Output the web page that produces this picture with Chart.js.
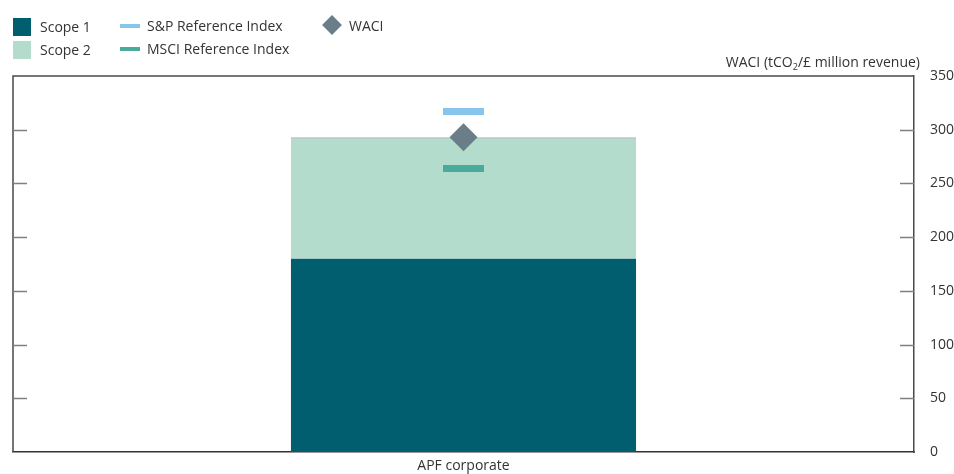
<!DOCTYPE html>
<html>
<head>
<meta charset="utf-8">
<script src="https://cdn.jsdelivr.net/npm/chart.js@4/dist/chart.umd.min.js"></script>
<style>
  body { margin: 0; background: #fff; font-family: "Open Sans", sans-serif; color: #333; }
  #wrap { position: relative; width: 954px; height: 474px; }
  .lg { position: absolute; font-size: 14px; line-height: 18px; white-space: nowrap; }
  .sw { position: absolute; }
  #axisTitle { position: absolute; right: 34px; top: 52px; font-size: 14px; white-space: nowrap; }
  #axisTitle sub { font-size: 9px; vertical-align: -3px; line-height: 0; }
</style>
</head>
<body>
<div id="wrap">
  <canvas id="myChart" width="954" height="474"></canvas>

  <div class="sw" style="left:13px;top:18px;width:18px;height:18px;background:#005e6e"></div>
  <div class="lg" style="left:40px;top:18px">Scope 1</div>
  <div class="sw" style="left:13px;top:41px;width:18px;height:18px;background:#b4dccd"></div>
  <div class="lg" style="left:40px;top:41px">Scope 2</div>

  <div class="sw" style="left:120px;top:24px;width:20px;height:4px;background:#86c6ec"></div>
  <div class="lg" style="left:147px;top:17px">S&amp;P Reference Index</div>
  <div class="sw" style="left:120px;top:47px;width:20px;height:4px;background:#4aab9a"></div>
  <div class="lg" style="left:147px;top:40px">MSCI Reference Index</div>

  <div class="sw" style="left:325px;top:18px;width:14px;height:14px;background:#6a7d88;transform:rotate(45deg)"></div>
  <div class="lg" style="left:349px;top:17px">WACI</div>

  <div id="axisTitle">WACI (tCO<sub>2</sub>/£ million revenue)</div>
</div>

<script>
const categories = ["APF corporate"];
const scope1 = [180];
const scope2 = [113];
const spIndex = [317];
const msciIndex = [264];
const waci = [293];
const yTicks = [0, 50, 100, 150, 200, 250, 300, 350];

// frame around the plot plus short inward ticks on both sides
const framePlugin = {
  id: "frame",
  afterDraw: (chart) => {
    let ctx = chart.ctx;
    let a = chart.chartArea;
    let y = chart.scales.y;
    ctx.save();
    ctx.strokeStyle = "#4a4a4a";
    ctx.lineWidth = 1.5;
    ctx.beginPath();
    ctx.moveTo(a.left, a.bottom);
    ctx.lineTo(a.left, a.top);
    ctx.lineTo(a.right, a.top);
    ctx.stroke();
    ctx.strokeStyle = "#808080";
    ctx.lineWidth = 1.5;
    for (let v of yTicks) {
      if (v === 0 || v === 350) continue;
      let py = Math.round(y.getPixelForValue(v)) + 0.5;
      ctx.beginPath();
      ctx.moveTo(a.left, py);
      ctx.lineTo(a.left + 14, py);
      ctx.moveTo(a.right - 14, py);
      ctx.lineTo(a.right, py);
      ctx.stroke();
    }
    ctx.restore();
  },
};

const data = {
  labels: categories,
  datasets: [
    {
      type: "line",
      label: "S&P Reference Index",
      data: spIndex,
      showLine: false,
      stack: "sp",
      order: 0,
      pointStyle: "line",
      pointRadius: 20.5,
      pointHoverRadius: 20.5,
      pointBorderWidth: 7,
      borderColor: "#86c6ec",
      backgroundColor: "#86c6ec",
    },
    {
      type: "line",
      label: "MSCI Reference Index",
      data: msciIndex,
      showLine: false,
      stack: "msci",
      order: 0,
      pointStyle: "line",
      pointRadius: 20.5,
      pointHoverRadius: 20.5,
      pointBorderWidth: 7,
      borderColor: "#4aab9a",
      backgroundColor: "#4aab9a",
    },
    {
      type: "line",
      label: "WACI",
      data: waci,
      showLine: false,
      stack: "waci",
      order: 0,
      pointStyle: "rectRot",
      pointRadius: 14,
      pointHoverRadius: 14,
      pointBorderWidth: 0,
      borderColor: "#6a7d88",
      backgroundColor: "#6a7d88",
    },
    {
      type: "bar",
      label: "Scope 1",
      data: scope1,
      stack: "scope",
      order: 1,
      backgroundColor: "#005e6e",
    },
    {
      type: "bar",
      label: "Scope 2",
      data: scope2,
      stack: "scope",
      order: 1,
      backgroundColor: "#b4dccd",
      borderColor: "#a9b4b0",
      borderWidth: { top: 1.5, left: 0, right: 0, bottom: 0 },
      borderSkipped: false,
    },
  ],
};

const myChart = new Chart(document.getElementById("myChart"), {
  data: data,
  plugins: [framePlugin],
  options: {
    responsive: false,
    animation: false,
    layout: { autoPadding: false, padding: { left: 13, top: 76, right: 0, bottom: 0 } },
    plugins: {
      legend: { display: false },
      tooltip: { enabled: false },
    },
    datasets: {
      bar: { barPercentage: 0.383, categoryPercentage: 1 },
    },
    scales: {
      x: {
        stacked: true,
        afterFit: (axis) => {
          axis.height = 22;
          axis.paddingLeft = 0;
          axis.paddingRight = 0;
        },
        grid: { display: false, drawTicks: false },
        border: { display: true, color: "#333", width: 1.5 },
        ticks: { color: "#333", font: { family: "Open Sans", size: 14 }, padding: 6 },
      },
      y: {
        position: "right",
        stacked: true,
        min: 0,
        max: 350,
        afterBuildTicks: (axis) => {
          axis.ticks = yTicks.map((v) => ({ value: v }));
        },
        afterFit: (axis) => {
          axis.width = 40;
          axis.paddingTop = 0;
          axis.paddingBottom = 0;
        },
        grid: { display: false, drawTicks: false },
        border: { display: true, color: "#4a4a4a", width: 1.5 },
        ticks: { color: "#333", font: { family: "Open Sans", size: 14 }, padding: 16 },
      },
    },
  },
});
</script>
</body>
</html>
